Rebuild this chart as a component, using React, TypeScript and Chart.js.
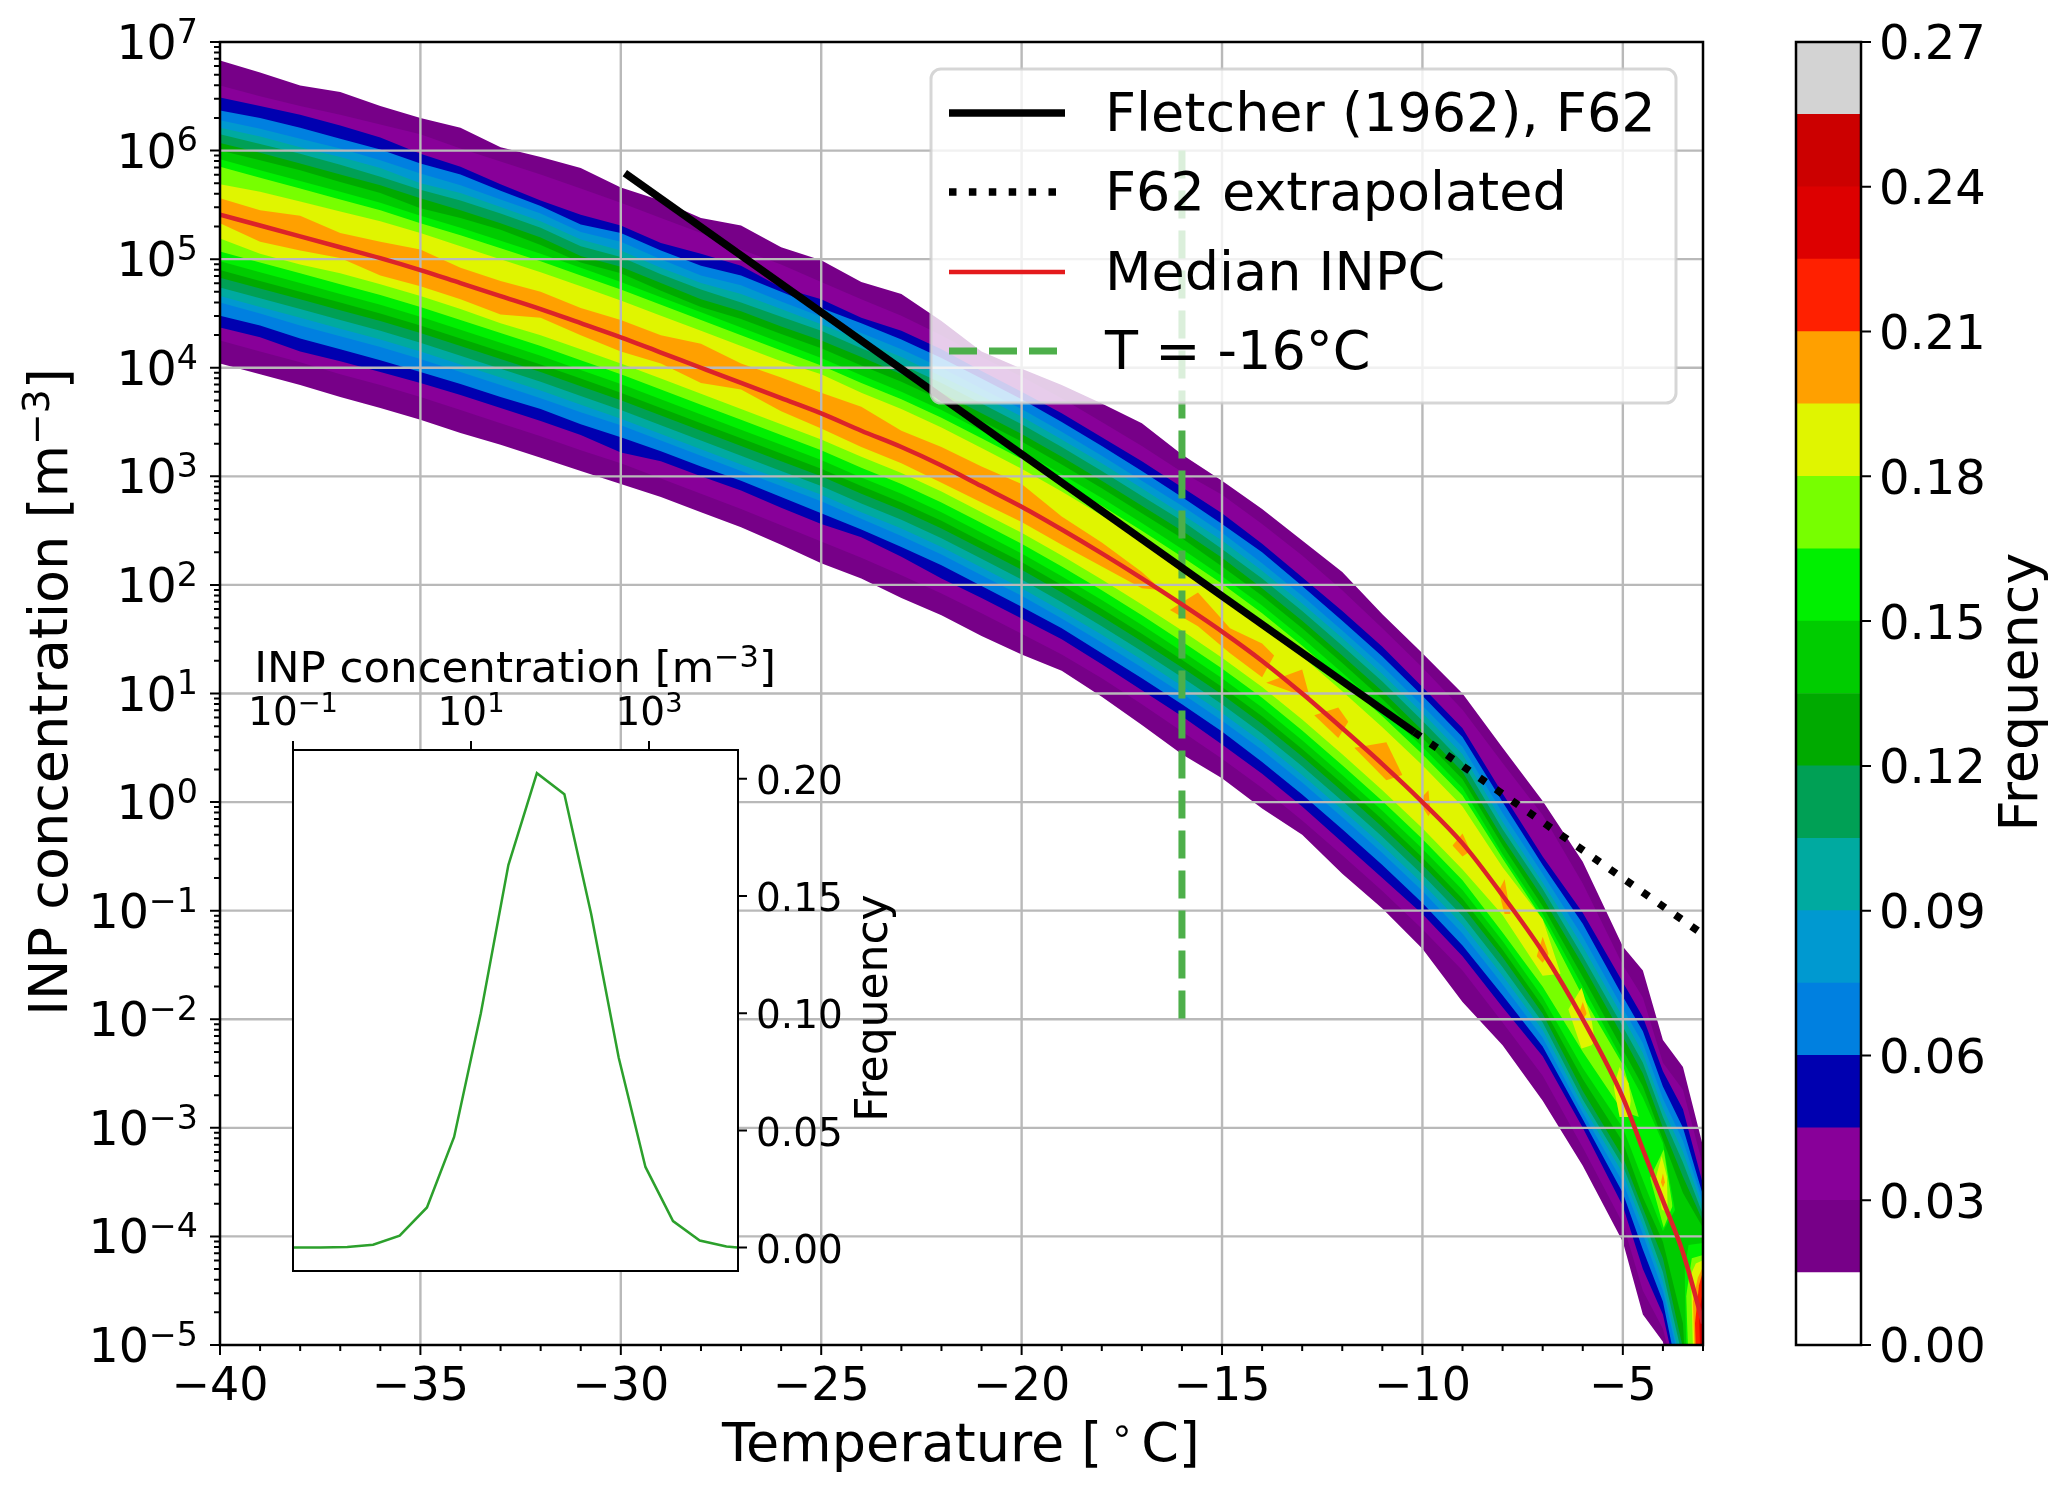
import React, { useEffect, useRef } from "react";
import { Chart, registerables } from "chart.js";
Chart.register(...registerables);

// ---- main panel data (log10 of INP concentration) ----
const temps = [-40,-39,-38,-37,-36,-35,-34,-33,-32,-31,-30,-29,-28,-27,-26,-25,-24,-23,-22,-21,-20,-19,-18,-17,-16,-15,-14,-13,-12,-11,-10,-9,-8,-7,-6,-5,-4.5,-4,-3.5,-3];
const medianLog = [5.41,5.31,5.21,5.11,5.01,4.90,4.78,4.66,4.54,4.41,4.28,4.14,4.00,3.86,3.72,3.58,3.42,3.27,3.10,2.91,2.72,2.51,2.29,2.06,1.82,1.57,1.30,1.00,0.68,0.35,0,-0.38,-0.86,-1.38,-2.00,-2.72,-3.20,-3.67,-4.15,-4.80];

const upper015 = [6.83,6.72,6.60,6.54,6.41,6.30,6.21,6.03,5.94,5.84,5.66,5.54,5.38,5.31,5.11,4.99,4.79,4.68,4.43,4.15,3.99,3.84,3.67,3.49,3.20,2.96,2.70,2.41,2.12,1.73,1.37,1.00,0.50,0.01,-0.55,-1.33,-1.55,-2.19,-2.44,-3.17];
const upper030 = [6.60,6.50,6.41,6.33,6.24,6.15,6.02,5.90,5.78,5.65,5.52,5.38,5.24,5.09,4.95,4.79,4.63,4.48,4.30,4.10,3.92,3.72,3.50,3.28,3.04,2.83,2.56,2.27,1.95,1.60,1.24,0.85,0.36,-0.12,-0.75,-1.50,-1.80,-2.40,-2.65,-3.35];
const upper045 = [6.49,6.41,6.33,6.23,6.12,5.97,5.85,5.69,5.54,5.41,5.31,5.15,5.05,4.94,4.74,4.63,4.46,4.34,4.17,3.97,3.78,3.58,3.36,3.14,2.90,2.66,2.38,2.07,1.76,1.43,1.06,0.68,0.08,-0.50,-1.02,-1.66,-1.98,-2.48,-2.83,-3.52];
const upper060 = [6.37,6.30,6.21,6.11,6.01,5.88,5.78,5.63,5.49,5.32,5.24,5.08,4.94,4.85,4.70,4.55,4.41,4.26,4.09,3.90,3.71,3.50,3.28,3.05,2.81,2.56,2.30,1.99,1.67,1.34,0.98,0.60,0.00,-0.58,-1.12,-1.79,-2.11,-2.62,-3.00,-3.62];
const upper075 = [6.28,6.20,6.11,6.02,5.91,5.79,5.68,5.55,5.42,5.25,5.16,5.00,4.85,4.76,4.61,4.47,4.32,4.17,4.00,3.81,3.62,3.41,3.19,2.96,2.73,2.48,2.20,1.90,1.58,1.25,0.89,0.51,-0.10,-0.66,-1.24,-1.90,-2.22,-2.73,-3.12,-3.68];
const upper090 = [6.21,6.13,6.03,5.94,5.84,5.70,5.61,5.48,5.35,5.18,5.08,4.92,4.78,4.68,4.54,4.40,4.25,4.10,3.92,3.74,3.55,3.34,3.12,2.89,2.65,2.41,2.13,1.83,1.51,1.18,0.82,0.44,-0.18,-0.74,-1.33,-1.98,-2.31,-2.82,-3.22,-3.74];
const upper105 = [6.15,6.06,5.97,5.87,5.76,5.64,5.54,5.42,5.29,5.12,5.02,4.86,4.72,4.60,4.47,4.34,4.18,4.03,3.86,3.67,3.48,3.27,3.05,2.82,2.59,2.33,2.06,1.76,1.44,1.11,0.75,0.37,-0.25,-0.80,-1.42,-2.07,-2.40,-2.90,-3.32,-3.80];
const upper120 = [6.07,5.98,5.88,5.78,5.68,5.56,5.45,5.33,5.20,5.03,4.93,4.78,4.63,4.52,4.38,4.25,4.10,3.94,3.77,3.58,3.39,3.18,2.96,2.73,2.50,2.25,1.97,1.67,1.35,1.02,0.66,0.28,-0.33,-0.88,-1.50,-2.16,-2.50,-3.00,-3.45,-3.86];
const upper135 = [6.00,5.91,5.82,5.71,5.61,5.47,5.38,5.27,5.13,4.97,4.87,4.71,4.56,4.45,4.31,4.18,4.02,3.87,3.70,3.51,3.32,3.11,2.89,2.66,2.43,2.17,1.90,1.60,1.28,0.95,0.59,0.21,-0.40,-0.96,-1.61,-2.28,-2.62,-3.11,-3.60,-3.92];

const lower015 = [4.04,3.94,3.84,3.73,3.63,3.52,3.40,3.29,3.17,3.05,2.93,2.81,2.67,2.53,2.37,2.20,2.06,1.88,1.72,1.53,1.36,1.21,0.97,0.71,0.44,0.22,-0.06,-0.30,-0.66,-0.98,-1.35,-1.84,-2.24,-2.75,-3.35,-4.05,-4.72,-4.97,-6.0,-8];
const lower030 = [4.25,4.15,4.05,3.94,3.84,3.73,3.61,3.49,3.37,3.24,3.12,2.98,2.84,2.70,2.55,2.40,2.25,2.09,1.92,1.74,1.55,1.36,1.14,0.90,0.65,0.40,0.13,-0.17,-0.49,-0.82,-1.17,-1.55,-2.03,-2.52,-3.18,-3.88,-4.50,-4.85,-5.6,-8];
const lower045 = [4.37,4.28,4.15,4.06,3.96,3.86,3.75,3.63,3.51,3.38,3.22,3.14,3.00,2.87,2.71,2.56,2.44,2.26,2.06,1.88,1.69,1.50,1.27,1.03,0.79,0.53,0.26,-0.04,-0.37,-0.70,-1.03,-1.42,-1.89,-2.34,-3.00,-3.72,-4.30,-4.72,-5.55,-8];
const lower060 = [4.48,4.39,4.27,4.17,4.07,3.96,3.85,3.73,3.62,3.48,3.36,3.23,3.09,2.96,2.81,2.66,2.51,2.35,2.18,1.99,1.80,1.60,1.37,1.14,0.90,0.65,0.37,0.07,-0.25,-0.58,-0.93,-1.32,-1.78,-2.25,-2.92,-3.60,-4.12,-4.60,-5.5,-8];
const lower075 = [4.60,4.50,4.39,4.29,4.19,4.08,3.96,3.84,3.72,3.59,3.47,3.33,3.19,3.05,2.91,2.77,2.61,2.45,2.28,2.09,1.90,1.69,1.47,1.24,1.00,0.75,0.48,0.18,-0.14,-0.47,-0.82,-1.21,-1.68,-2.17,-2.86,-3.50,-3.98,-4.50,-5.3,-8];
const lower090 = [4.66,4.56,4.46,4.36,4.26,4.15,4.03,3.91,3.79,3.66,3.53,3.39,3.25,3.11,2.97,2.83,2.67,2.52,2.35,2.16,1.97,1.76,1.54,1.31,1.07,0.82,0.55,0.25,-0.07,-0.40,-0.75,-1.13,-1.60,-2.10,-2.80,-3.42,-3.90,-4.42,-5.25,-8];
const lower105 = [4.74,4.64,4.54,4.44,4.34,4.23,4.11,3.99,3.87,3.74,3.61,3.47,3.33,3.19,3.05,2.91,2.75,2.60,2.43,2.24,2.05,1.84,1.62,1.39,1.15,0.90,0.63,0.33,0.01,-0.32,-0.67,-1.05,-1.52,-2.03,-2.74,-3.35,-3.82,-4.33,-5.13,-8];
const lower120 = [4.83,4.73,4.63,4.53,4.43,4.32,4.20,4.08,3.96,3.83,3.70,3.56,3.42,3.28,3.14,3.00,2.84,2.69,2.52,2.33,2.14,1.93,1.71,1.48,1.24,0.99,0.72,0.42,0.10,-0.23,-0.58,-0.96,-1.43,-1.95,-2.66,-3.27,-3.74,-4.20,-5.03,-8];
const lower135 = [4.90,4.80,4.70,4.60,4.50,4.39,4.27,4.15,4.03,3.90,3.77,3.63,3.49,3.35,3.21,3.07,2.91,2.76,2.59,2.40,2.21,2.00,1.78,1.55,1.31,1.06,0.79,0.49,0.17,-0.16,-0.51,-0.89,-1.36,-1.88,-2.55,-3.13,-3.64,-4.05,-4.80,-8];

const temps150 = [-40,-39,-38,-37,-36,-35,-34,-33,-32,-31,-30,-29,-28,-27,-26,-25,-24,-23,-22,-21,-20,-19,-18,-17,-16,-15,-14,-13,-12,-11,-10,-9,-8,-7,-6,-5,-4.5,-4,-3.7];
const upper150 = [5.92,5.82,5.72,5.62,5.52,5.40,5.29,5.17,5.05,4.92,4.79,4.65,4.51,4.37,4.23,4.09,3.93,3.78,3.61,3.42,3.23,3.02,2.80,2.57,2.33,2.08,1.81,1.51,1.19,0.86,0.51,0.13,-0.48,-1.03,-1.70,-2.38,-2.72,-3.14,-3.76];
const lower150 = [4.98,4.88,4.78,4.68,4.58,4.47,4.35,4.23,4.11,3.98,3.85,3.71,3.57,3.43,3.29,3.15,2.99,2.84,2.67,2.48,2.29,2.08,1.86,1.63,1.39,1.14,0.87,0.57,0.25,-0.08,-0.43,-0.81,-1.28,-1.80,-2.45,-3.00,-3.48,-3.95,-3.76];

const temps165 = [-40,-39,-38,-37,-36,-35,-34,-33,-32,-31,-30,-29,-28,-27,-26,-25,-24,-23,-22,-21,-20,-19,-18,-17,-16,-15,-14,-13,-12,-11,-10,-9,-8,-7,-6,-5,-4.6];
const upper165 = [5.85,5.75,5.65,5.55,5.45,5.33,5.22,5.10,4.98,4.85,4.72,4.58,4.44,4.30,4.16,4.02,3.86,3.71,3.54,3.35,3.16,2.95,2.73,2.50,2.26,2.01,1.74,1.44,1.12,0.79,0.44,0.06,-0.52,-1.08,-1.79,-2.42,-2.90];
const lower165 = [5.07,4.97,4.87,4.77,4.67,4.56,4.44,4.32,4.20,4.07,3.94,3.80,3.66,3.52,3.38,3.24,3.08,2.93,2.76,2.57,2.38,2.17,1.95,1.72,1.48,1.23,0.96,0.66,0.34,0.01,-0.34,-0.72,-1.20,-1.70,-2.30,-2.85,-2.90];

const temps180 = [-40,-39,-38,-37,-36,-35,-34,-33,-32,-31,-30,-29,-28,-27,-26,-25,-24,-23,-22,-21,-20,-19,-18,-17,-16,-15,-14,-13,-12,-11,-10,-9,-8,-7,-6.55];
const upper180 = [5.69,5.62,5.53,5.44,5.35,5.24,5.12,5.00,4.88,4.75,4.62,4.48,4.34,4.20,4.06,3.94,3.77,3.62,3.45,3.26,3.07,2.86,2.64,2.41,2.17,1.91,1.64,1.34,1.02,0.69,0.34,-0.04,-0.60,-1.08,-1.58];
const lower180 = [5.19,5.05,4.95,4.87,4.77,4.66,4.54,4.41,4.30,4.17,4.04,3.90,3.76,3.62,3.48,3.34,3.18,3.03,2.86,2.67,2.48,2.27,2.05,1.82,1.58,1.33,1.06,0.76,0.44,0.11,-0.24,-0.62,-1.04,-1.60,-1.58];

const temps195 = [-40,-39,-38,-37,-36,-35,-34,-33,-32,-31,-30,-29,-28,-27,-26,-25,-24,-23,-22,-21,-20,-19,-18,-17,-16.5];
const upper195 = [5.56,5.45,5.40,5.24,5.16,5.09,4.92,4.80,4.70,4.55,4.44,4.30,4.22,4.04,3.91,3.77,3.64,3.42,3.27,3.09,2.93,2.63,2.39,2.12,1.95];
const lower195 = [5.33,5.16,5.08,5.01,4.85,4.75,4.63,4.49,4.46,4.30,4.15,4.04,3.86,3.80,3.60,3.44,3.27,3.12,2.94,2.76,2.58,2.37,2.17,1.97,1.95];

// isolated contour islands: [temperatures, upper log10, lower log10]
const yellowIslands = [
  [[-6.36,-6.03,-5.78,-5.7],[-1.91,-1.71,-2.01,-2.2],[-1.91,-2.27,-2.24,-2.2]],
  [[-5.23,-5.08,-4.86,-4.8],[-2.62,-2.44,-2.59,-2.75],[-2.62,-2.9,-2.9,-2.75]],
  [[-4.17,-4.03,-3.9,-3.88],[-3.45,-3.26,-3.45,-3.7],[-3.45,-3.75,-3.78,-3.7]],
];
const limeIslands = [
  [[-4.32,-3.98,-3.76],[-3.46,-3.2,-3.72],[-3.46,-3.92,-3.72]],
];
const orangeIslands = [
  [[-16.3,-15.6,-14.8,-14,-13.7],[1.77,1.93,1.6,1.46,1.35],[1.77,1.62,1.37,1.15,1.35]],
  [[-13.9,-13,-12.8],[1.1,1.22,0.95],[1.1,0.98,0.95]],
  [[-12.7,-12.1,-11.85],[0.8,0.87,0.74],[0.8,0.59,0.74]],
  [[-11.7,-10.9,-10.5],[0.5,0.55,0.25],[0.5,0.2,0.25]],
  [[-10.1,-9.85,-9.8],[0.01,0.11,-0.1],[0.01,-0.13,-0.1]],
  [[-9.25,-9,-8.8],[-0.4,-0.29,-0.45],[-0.4,-0.5,-0.45]],
  [[-8.1,-7.95,-7.8],[-0.82,-0.71,-1.03],[-0.82,-1.03,-1.03]],
  [[-7.15,-7,-6.85],[-1.42,-1.24,-1.4],[-1.42,-1.48,-1.4]],
  [[-6.1,-6,-5.9],[-1.95,-1.84,-1.95],[-1.95,-2,-1.95]],
  [[-4.05,-4,-3.95],[-3.5,-3.42,-3.5],[-3.5,-3.55,-3.5]],
];
const wedge150 = [[-3.46,-3.36,-3],[-4.3,-4.08,-4.06],[-4.3,-6,-6]];
const wedge165 = [[-3.42,-3.28,-3],[-4.55,-4.2,-4.17],[-4.55,-6,-6]];
const wedge180 = [[-3.3,-3.18,-3],[-4.35,-4.25,-4.22],[-4.35,-6,-6]];
const wedge195 = [[-3.25,-3.13,-3],[-4.6,-4.38,-4.28],[-4.6,-6,-6]];
const wedge210 = [[-3.2,-3.1,-3],[-4.8,-4.45,-4.32],[-4.8,-6,-6]];
const wedge225 = [[-3.1,-3],[-4.7,-4.5],[-4.7,-6]];

const f62Temps = [-29.9,-10.2];
const f62Values = [6.2e5,4.4];
const f62ExtraTemps = [-10.2,-3];
const f62ExtraValues = [4.4,0.0605];
const markerTemps = [-16,-16];
const markerValues = [1e6,1e-2];

const legendLabels = ["Fletcher (1962), F62","F62 extrapolated","Median INPC","T = -16°C"];

// ---- inset data ----
const insetConc = [0.1,0.204,0.407,0.794,1.58,3.2,6.46,12.9,26.3,55,112,224,457,912,1862,3715,7413,9900];
const insetFreq = [0,0,0.0002,0.0012,0.0051,0.0171,0.0472,0.1,0.1632,0.2024,0.1934,0.1423,0.081,0.0344,0.0113,0.003,0.0005,0];
const insetXTicks = [0.1,10,1000];
const insetYTicks = [0,0.05,0.1,0.15,0.2];

// ---- colour scale ----
const binWidth = 0.015;
const binColors = ["#ffffff","#770088","#880099","#0000b0","#0080e0","#0099d0","#00aaa0","#00a055","#00aa00","#00cc00","#00f000","#77ff00","#e0f500","#ffa000","#ff2000","#dd0000","#cc0000","#d3d3d3"];
const C = { c015:1,c030:2,c045:3,c060:4,c075:5,c090:6,c105:7,c120:8,c135:9,c150:10,c165:11,c180:12,c195:13,c210:14,c225:15 };
const decades = [-5,-4,-3,-2,-1,0,1,2,3,4,5,6,7];
const minorFactors = [2,3,4,5,6,7,8,9];

const FONT = "'DejaVu Sans'";
const isDecade = (v:number) => Math.abs(Math.log10(v)-Math.round(Math.log10(v)))<1e-9;
const expText = (e:number) => (e<0?"−":"")+Math.abs(e);

// text with math-style raised runs; parts = [text, raised?]
function mathText(ctx:any, parts:[string,boolean][], x:number, y:number, size:number, align:"left"|"center"|"right"){
  ctx.save();
  ctx.fillStyle="#000"; ctx.textAlign="left"; ctx.textBaseline="alphabetic";
  const font=(raised:boolean)=>`${raised?size*0.7:size}px ${FONT}`;
  let total=0;
  parts.forEach(([t,r])=>{ctx.font=font(r);total+=ctx.measureText(t).width;});
  let cx = align==="left"?x:align==="center"?x-total/2:x-total;
  parts.forEach(([t,r])=>{
    ctx.font=font(r);
    ctx.fillText(t,cx,r?y-size*0.34:y);
    cx+=ctx.measureText(t).width;
  });
  ctx.restore();
}

function band(xs:number[], up:number[], lo:number[], color:string){
  const base = {type:"line", pointRadius:0, borderWidth:0, backgroundColor:color, borderColor:color, tension:0};
  return [
    {...base, label:"", data:xs.map((x,i)=>({x,y:Math.pow(10,up[i])})), fill:"+1"},
    {...base, label:"", data:xs.map((x,i)=>({x,y:Math.pow(10,lo[i])})), fill:false},
  ];
}
const island = (t:number[][], colorIdx:number) => band(t[0],t[1],t[2],binColors[colorIdx]);
const xy = (xs:number[], ys:number[]) => xs.map((x,i)=>({x,y:ys[i]}));
const noPad = (s:any)=>{s.paddingTop=0;s.paddingBottom=0;s.paddingLeft=0;s.paddingRight=0;};

function drawFrame(ctx:any, a:any, w=2.5){
  ctx.save(); ctx.strokeStyle="#000"; ctx.lineWidth=w;
  ctx.strokeRect(a.left,a.top,a.right-a.left,a.bottom-a.top); ctx.restore();
}
function rotated(ctx:any, x:number, y:number, fn:()=>void){
  ctx.save(); ctx.translate(x,y); ctx.rotate(-Math.PI/2); fn(); ctx.restore();
}

const gridPlugin = {
  id:"contourGrid",
  afterDatasetDraw(chart:any,args:any){
    if(chart.data.datasets[args.index].label!=="__grid") return;
    const {ctx,chartArea:a,scales:{x,y}}=chart;
    ctx.save(); ctx.strokeStyle="#b9b9b9"; ctx.lineWidth=2.4; ctx.beginPath();
    x.ticks.forEach((t:any)=>{ if(t.value%5===0 && t.value>-40){const p=x.getPixelForValue(t.value);ctx.moveTo(p,a.top);ctx.lineTo(p,a.bottom);} });
    y.ticks.forEach((t:any)=>{ if(isDecade(t.value)&&t.value>1e-5&&t.value<1e7){const p=y.getPixelForValue(t.value);ctx.moveTo(a.left,p);ctx.lineTo(a.right,p);} });
    ctx.stroke(); ctx.restore();
  },
};
const mainDecor = {
  id:"mainDecor",
  afterDraw(chart:any){
    const {ctx,chartArea:a,scales:{x,y}}=chart;
    ctx.save(); ctx.strokeStyle="#000"; ctx.lineWidth=2; ctx.beginPath();
    x.ticks.forEach((t:any)=>{const p=x.getPixelForValue(t.value);const l=t.value%5===0?10:6;ctx.moveTo(p,a.bottom);ctx.lineTo(p,a.bottom+l);});
    y.ticks.forEach((t:any)=>{const p=y.getPixelForValue(t.value);const l=isDecade(t.value)?10:6;ctx.moveTo(a.left,p);ctx.lineTo(a.left-l,p);});
    ctx.stroke(); ctx.restore();
    decades.forEach(e=>{
      mathText(ctx,[["10",false],[expText(e),true]],198,y.getPixelForValue(Math.pow(10,e))+17,47.5,"right");
    });
    mathText(ctx,[["Temperature [",false],["\u2009∘\u2009",true],["C]",false]],961,1461,54,"center");
    rotated(ctx,67,692,()=>mathText(ctx,[["INP concentration [m",false],["−3",true],["]",false]],0,0,54,"center"));
    drawFrame(ctx,a);
    // legend
    const L=931,T=69,R=1676,B=403,r=10;
    ctx.save();
    ctx.beginPath(); ctx.roundRect(L,T,R-L,B-T,r);
    ctx.fillStyle="rgba(255,255,255,0.8)"; ctx.fill();
    ctx.strokeStyle="rgba(204,204,204,0.8)"; ctx.lineWidth=3; ctx.stroke();
    const rows=[113,192,272,351];
    const styles=[{c:"#000",w:7.5,d:[]},{c:"#000",w:7.5,d:[7.5,12.4]},{c:"#e41a1c",w:4.5,d:[]},{c:"#4daf4a",w:7,d:[28,12]}];
    rows.forEach((yy,i)=>{
      ctx.beginPath(); ctx.strokeStyle=styles[i].c; ctx.lineWidth=styles[i].w; ctx.setLineDash(styles[i].d);
      ctx.moveTo(949,yy); ctx.lineTo(1065,yy); ctx.stroke(); ctx.setLineDash([]);
      ctx.fillStyle="#000"; ctx.font=`54px ${FONT}`; ctx.textAlign="left"; ctx.textBaseline="middle";
      ctx.fillText(legendLabels[i],1105,yy+4);
    });
    ctx.restore();
  },
};
const insetDecor = {
  id:"insetDecor",
  beforeDraw(chart:any){ const {ctx,chartArea:a}=chart; ctx.save(); ctx.fillStyle="#fff"; ctx.fillRect(a.left,a.top,a.right-a.left,a.bottom-a.top); ctx.restore(); },
  afterDraw(chart:any){
    const {ctx,chartArea:a,scales:{x,y}}=chart;
    ctx.save(); ctx.strokeStyle="#000"; ctx.lineWidth=2; ctx.beginPath();
    x.ticks.forEach((t:any)=>{const p=x.getPixelForValue(t.value);ctx.moveTo(p,a.top);ctx.lineTo(p,a.top-9);});
    y.ticks.forEach((t:any)=>{const p=y.getPixelForValue(t.value);ctx.moveTo(a.right,p);ctx.lineTo(a.right+9,p);});
    ctx.stroke(); ctx.restore();
    x.ticks.forEach((t:any)=>{
      mathText(ctx,[["10",false],[expText(Math.round(Math.log10(t.value))),true]],x.getPixelForValue(t.value),725,39,"center");
    });
    mathText(ctx,[["INP concentration [m",false],["−3",true],["]",false]],515,682,43.5,"center");
    drawFrame(ctx,a,2);
    rotated(ctx,887,1008,()=>mathText(ctx,[["Frequency",false]],0,0,44,"center"));
  },
};
const cbarDecor = {
  id:"cbarDecor",
  afterDraw(chart:any){
    const {ctx,chartArea:a,scales:{y}}=chart;
    ctx.save(); ctx.strokeStyle="#000"; ctx.lineWidth=2; ctx.beginPath();
    y.ticks.forEach((t:any)=>{const p=y.getPixelForValue(t.value);ctx.moveTo(a.right,p);ctx.lineTo(a.right+10,p);});
    ctx.stroke(); ctx.restore();
    drawFrame(ctx,a);
    rotated(ctx,2037,692,()=>mathText(ctx,[["Frequency",false]],0,0,54,"center"));
  },
};

function mainConfig():any{
  const layers:any[] = [
    ...band(temps,upper015,lower015,binColors[C.c015]),
    ...band(temps,upper030,lower030,binColors[C.c030]),
    ...band(temps,upper045,lower045,binColors[C.c045]),
    ...band(temps,upper060,lower060,binColors[C.c060]),
    ...band(temps,upper075,lower075,binColors[C.c075]),
    ...band(temps,upper090,lower090,binColors[C.c090]),
    ...band(temps,upper105,lower105,binColors[C.c105]),
    ...band(temps,upper120,lower120,binColors[C.c120]),
    ...band(temps,upper135,lower135,binColors[C.c135]),
    ...band(temps150,upper150,lower150,binColors[C.c150]),
    ...island(wedge150,C.c150),
    ...band(temps165,upper165,lower165,binColors[C.c165]),
    ...limeIslands.flatMap(t=>island(t,C.c165)),
    ...island(wedge165,C.c165),
    ...band(temps180,upper180,lower180,binColors[C.c180]),
    ...yellowIslands.flatMap(t=>island(t,C.c180)),
    ...island(wedge180,C.c180),
    ...band(temps195,upper195,lower195,binColors[C.c195]),
    ...orangeIslands.flatMap(t=>island(t,C.c195)),
    ...island(wedge195,C.c195),
    ...island(wedge210,C.c210),
    ...island(wedge225,C.c225),
  ];
  const lines:any[] = [
    {type:"line",label:"__grid",data:[],pointRadius:0,borderWidth:0},
    {type:"line",label:legendLabels[3],data:xy(markerTemps,markerValues),borderColor:"#4daf4a",borderWidth:7,borderDash:[28,12],pointRadius:0,fill:false},
    {type:"line",label:legendLabels[0],data:xy(f62Temps,f62Values),borderColor:"#000",borderWidth:7.5,pointRadius:0,fill:false},
    {type:"line",label:legendLabels[1],data:xy(f62ExtraTemps,f62ExtraValues),borderColor:"#000",borderWidth:7.5,borderDash:[7.5,12.4],pointRadius:0,fill:false},
    {type:"line",label:legendLabels[2],data:temps.map((x,i)=>({x,y:Math.pow(10,medianLog[i])})),borderColor:"#dc2329",borderWidth:4.5,pointRadius:0,fill:false,cubicInterpolationMode:"monotone"},
  ];
  const all = [...layers,...lines];
  all.forEach((d,i)=>{d.order = all.length-i;});
  return {
    type:"line",
    data:{datasets:all},
    options:{
      animation:false,responsive:false,devicePixelRatio:1,events:[],
      layout:{autoPadding:false,padding:{left:0,top:42,right:364,bottom:0}},
      plugins:{legend:{display:false},tooltip:{enabled:false}},
      scales:{
        x:{type:"linear",min:-40,max:-3,
          afterFit:(s:any)=>{s.height=145;noPad(s);},
          grid:{display:false,drawTicks:false},border:{display:false},
          ticks:{stepSize:1,autoSkip:false,maxRotation:0,minRotation:0,padding:15,color:"#000",font:{family:FONT,size:46},
            callback:(v:any)=>Number(v)%5===0?"−"+Math.abs(Number(v)):""},
        },
        y:{type:"logarithmic",min:1e-5,max:1e7,
          afterFit:(s:any)=>{s.width=220;noPad(s);},
          afterBuildTicks:(s:any)=>{
            const t:any[]=[];
            decades.forEach(e=>{t.push({value:Math.pow(10,e),major:true}); if(e<7) minorFactors.forEach(f=>t.push({value:f*Math.pow(10,e),major:false}));});
            s.ticks=t;
          },
          grid:{display:false,drawTicks:false},border:{display:false},
          ticks:{display:false,autoSkip:false},
        },
      },
    },
    plugins:[gridPlugin,mainDecor],
  };
}

function insetConfig():any{
  return {
    type:"line",
    data:{datasets:[{label:"Frequency",data:xy(insetConc,insetFreq),borderColor:"#2ca02c",borderWidth:2.5,pointRadius:0,fill:false}]},
    options:{
      animation:false,responsive:false,devicePixelRatio:1,events:[],
      layout:{autoPadding:false,padding:{left:293,top:640,right:1129,bottom:219}},
      plugins:{legend:{display:false},tooltip:{enabled:false}},
      scales:{
        x:{type:"logarithmic",position:"top",min:0.1,max:1e4,
          afterFit:(s:any)=>{s.height=110;noPad(s);},
          afterBuildTicks:(s:any)=>{s.ticks=insetXTicks.map(v=>({value:v,major:true}));},
          grid:{display:false,drawTicks:false},border:{display:false},
          ticks:{display:false,autoSkip:false},
        },
        y:{type:"linear",position:"right",min:-0.01,max:0.2123,
          afterFit:(s:any)=>{s.width=200;noPad(s);},
          afterBuildTicks:(s:any)=>{s.ticks=insetYTicks.map(v=>({value:v}));},
          grid:{display:false,drawTicks:false},border:{display:false},
          ticks:{autoSkip:false,padding:18,labelOffset:5,color:"#000",font:{family:FONT,size:39},callback:(v:any)=>Number(v).toFixed(2)},
        },
      },
    },
    plugins:[insetDecor],
  };
}

function cbarConfig():any{
  return {
    type:"bar",
    data:{labels:["Frequency"],datasets:binColors.map((c,i)=>({label:(i*binWidth).toFixed(3),data:[binWidth],backgroundColor:c,borderWidth:0,stack:"s",barPercentage:1,categoryPercentage:1}))},
    options:{
      animation:false,responsive:false,devicePixelRatio:1,events:[],
      layout:{autoPadding:false,padding:{left:1796,top:42,right:0,bottom:145}},
      plugins:{legend:{display:false},tooltip:{enabled:false}},
      scales:{
        x:{display:false,stacked:true},
        y:{position:"right",stacked:true,min:0,max:0.27,
          afterFit:(s:any)=>{s.width=206;noPad(s);},
          grid:{display:false,drawTicks:false},border:{display:false},
          ticks:{stepSize:0.03,autoSkip:false,padding:18,labelOffset:5,color:"#000",font:{family:FONT,size:48},callback:(v:any)=>Number(v).toFixed(2)},
        },
      },
    },
    plugins:[cbarDecor],
  };
}

const W=2067,H=1490;
const cStyle:React.CSSProperties={position:"absolute",left:0,top:0,display:"block"};

export default function App(){
  const a=useRef<HTMLCanvasElement>(null);
  const b=useRef<HTMLCanvasElement>(null);
  const c=useRef<HTMLCanvasElement>(null);
  useEffect(()=>{
    const charts=[new Chart(a.current!,mainConfig()),new Chart(b.current!,insetConfig()),new Chart(c.current!,cbarConfig())];
    return ()=>charts.forEach(ch=>ch.destroy());
  },[]);
  return (
    <div style={{position:"absolute",left:0,top:0,width:W,height:H,overflow:"hidden",background:"#fff"}}>
      <canvas ref={a} width={W} height={H} style={cStyle}/>
      <canvas ref={b} width={W} height={H} style={cStyle}/>
      <canvas ref={c} width={W} height={H} style={cStyle}/>
    </div>
  );
}
